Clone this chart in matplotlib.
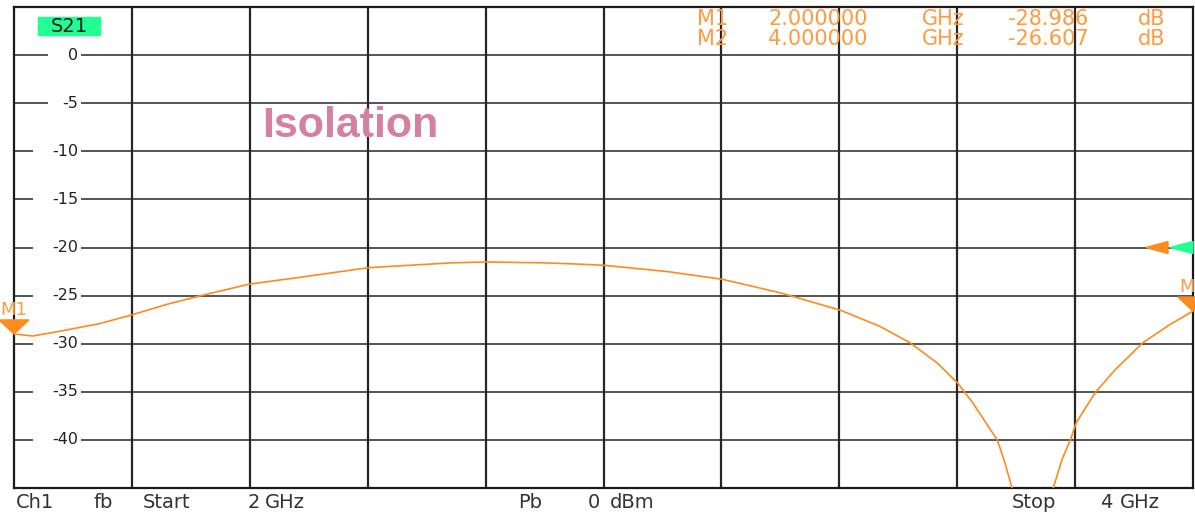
"""S21 isolation trace, redrawn from a VNA screenshot."""
import matplotlib.pyplot as plt
import numpy as np
from matplotlib.patches import Polygon, Rectangle

# --- data ---
freq_ghz = [2.000, 2.032, 2.078, 2.146, 2.200, 2.260, 2.324, 2.400, 2.485,
            2.601, 2.740, 2.801, 2.901, 2.948, 3.001, 3.108, 3.201, 3.299,
            3.401, 3.469, 3.520, 3.566, 3.601, 3.627, 3.656, 3.668, 3.681,
            3.693, 3.728, 3.763, 3.778, 3.792, 3.802, 3.834, 3.868, 3.915,
            3.961, 4.000]
s21_db = [-28.99, -29.2, -28.7, -27.9, -27.0, -25.9, -24.9, -23.8, -23.1,
          -22.1, -21.6, -21.5, -21.6, -21.7, -21.85, -22.5, -23.3, -24.7,
          -26.5, -28.2, -29.9, -32.0, -34.1, -36.2, -38.9, -40.0, -42.4,
          -45.0, -55.0, -45.0, -42.0, -40.0, -38.2, -35.1, -32.7, -29.9,
          -28.0, -26.61]

marker_names = ["M1", "M2"]
marker_freq = [2.0, 4.0]
marker_db = [-28.986, -26.607]
ref_level = -20

y_ticks = [0, -5, -10, -15, -20, -25, -30, -35, -40]
x_min, x_max, y_min, y_max = 2.0, 4.0, -45, 5

TRACE = "#ff8a1e"
MTEXT = "#ff9a40"
GREEN = "#1fff92"
GRID = "#262626"

W, H = 1195, 514
L, R, T, B = 14, 1193, 7, 488


def fx(px):
    return px / W


def fy(py):
    return 1 - py / H


fig = plt.figure(figsize=(W / 100, H / 100), dpi=100)
ax = fig.add_axes([fx(L), fy(B), fx(R) - fx(L), fy(T) - fy(B)])
ax.set_xlim(x_min, x_max)
ax.set_ylim(y_min, y_max)
ax.set_xticks([])
ax.set_yticks([])
for sp in ax.spines.values():
    sp.set_color("#1a1a1a")
    sp.set_linewidth(1.6)

# data units per pixel
dx = (x_max - x_min) / (R - L)
dy = (y_max - y_min) / (B - T)

# vertical grid
for f in np.linspace(x_min, x_max, 11)[1:-1]:
    ax.axvline(f, color=GRID, lw=1.6, zorder=1)

# horizontal grid, broken around the labels
for lvl in y_ticks:
    lab = str(lvl)
    gap_start = 33 if len(lab) >= 3 else 48
    ax.hlines(lvl, x_min, x_min + (gap_start - L) * dx, color=GRID, lw=1.1, zorder=1)
    ax.hlines(lvl, x_min + (81 - L) * dx, x_max, color=GRID, lw=1.1, zorder=1)
    ax.text(x_min + (78 - L) * dx, lvl, lab, ha="right", va="center",
            fontsize=11.5, color="#222222", family="DejaVu Sans")

# trace
ax.plot(freq_ghz, s21_db, color=TRACE, lw=1.2, zorder=3)

# markers
for name, f, v in zip(marker_names, marker_freq, marker_db):
    tri = Polygon([(f - 15 * dx, v + 14 * dy), (f + 15 * dx, v + 14 * dy), (f, v)],
                  closed=True, color=TRACE, clip_on=False, zorder=4)
    ax.add_patch(tri)
    ax.text(f, v + 15 * dy, name, ha="center", va="bottom", fontsize=13,
            color=MTEXT, family="DejaVu Sans", clip_on=False)

# reference level arrows
ax.add_patch(Polygon([(x_max - 23 * dx, ref_level), (x_max, ref_level + 6 * dy),
                      (x_max, ref_level - 6 * dy)], closed=True, color=GREEN,
                     clip_on=False, zorder=4))
ax.add_patch(Polygon([(x_max - 47 * dx, ref_level), (x_max - 25 * dx, ref_level + 6 * dy),
                      (x_max - 25 * dx, ref_level - 6 * dy)], closed=True, color=TRACE,
                     clip_on=False, zorder=4))

# trace label
fig.patches.append(Rectangle((fx(38), fy(35)), fx(100) - fx(38), fy(17) - fy(35),
                             transform=fig.transFigure, color=GREEN, zorder=5))
fig.text(fx(69), fy(26), "S21", ha="center", va="center", fontsize=14,
         color="#1a1a1a", family="DejaVu Sans", zorder=6)

fig.text(fx(262), fy(126), "Isolation", ha="left", va="center", fontsize=31,
         fontweight="bold", color="#d4809e", family="Liberation Sans")

# marker readout
readout = [
    [("M1", 697), ("2.000000", 768), ("GHz", 922), ("-28.986", 1008), ("dB", 1138)],
    [("M2", 697), ("4.000000", 768), ("GHz", 922), ("-26.607", 1008), ("dB", 1138)],
]
for row, yc in zip(readout, [19, 39]):
    for s, xp in row:
        fig.text(fx(xp), fy(yc), s, ha="left", va="center", fontsize=15,
                 color=MTEXT, family="DejaVu Sans")

# channel footer
footer = [("Ch1", 16), ("fb", 93), ("Start", 143), ("2", 248), ("GHz", 265),
          ("Pb", 518), ("0", 588), ("dBm", 610), ("Stop", 1012), ("4", 1100), ("GHz", 1120)]
for s, xp in footer:
    fig.text(fx(xp), fy(503), s, ha="left", va="center", fontsize=14,
             color="#333333", family="DejaVu Sans")

fig.savefig("out.png", dpi=100, facecolor="white")
